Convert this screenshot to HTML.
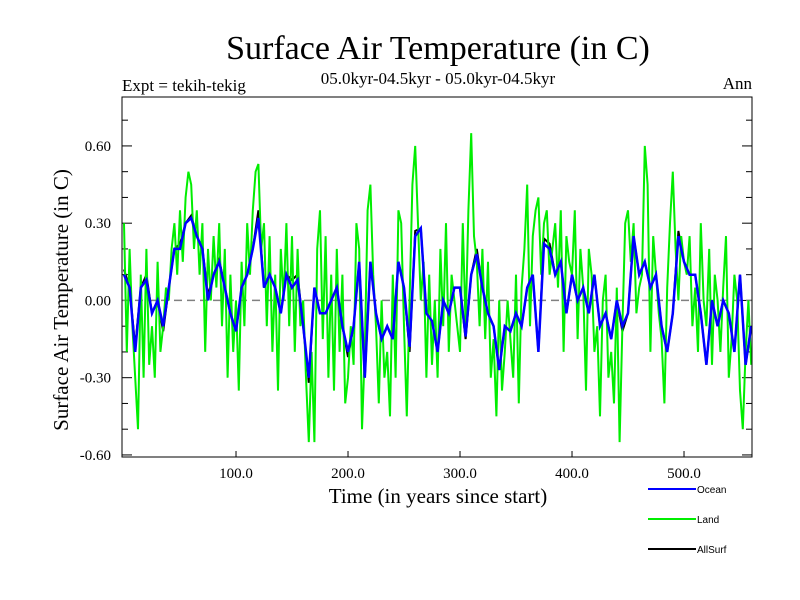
<!DOCTYPE html>
<html><head><meta charset="utf-8"><style>
body{margin:0;background:#fff;}
svg{display:block;font-family:"Liberation Serif",serif;}
</style></head><body>
<svg id="chart" width="800" height="600">
<text x="438" y="59" font-size="34" text-anchor="middle">Surface Air Temperature (in C)</text>
<text x="438" y="84" font-size="17" text-anchor="middle">05.0kyr-04.5kyr - 05.0kyr-04.5kyr</text>
<text x="122" y="91" font-size="17">Expt = tekih-tekig</text>
<text x="752" y="89" font-size="17" text-anchor="end">Ann</text>
<text transform="translate(68,300) rotate(-90)" font-size="21" text-anchor="middle">Surface Air Temperature (in C)</text>
<text x="438" y="503" font-size="21" text-anchor="middle">Time (in years since start)</text>
<g id="ticks"></g>
<g id="series"></g>
<rect x="122" y="97" width="630" height="360" fill="none" stroke="#000" stroke-width="1"/>
<g id="legend" font-family="Liberation Sans, sans-serif" font-size="10"></g>
</svg>
<script>
const yTicks=[0.6,0.3,0,-0.3,-0.6];
const yTickLabels=["0.60","0.30","0.00","-0.30","-0.60"];
const xTicks=[100,200,300,400,500];
const xTickLabels=["100.0","200.0","300.0","400.0","500.0"];
const ocean=[0.1,0.05,-0.2,0.05,0.08,-0.05,0.0,-0.1,0.05,0.2,0.2,0.3,0.32,0.25,0.2,0.0,0.1,0.15,0.05,-0.05,-0.12,0.05,0.1,0.2,0.32,0.05,0.1,0.05,-0.05,0.1,0.05,0.08,-0.1,-0.3,0.05,-0.05,-0.05,0.0,0.05,-0.1,-0.2,-0.1,0.15,-0.3,0.15,-0.05,-0.15,-0.1,-0.15,0.15,0.05,-0.18,0.25,0.28,-0.05,-0.08,-0.2,0.0,-0.05,0.05,0.05,-0.14,0.1,0.18,0.05,-0.05,-0.1,-0.27,-0.1,-0.12,-0.05,-0.1,0.05,0.1,-0.2,0.22,0.2,0.1,0.15,-0.05,0.1,0.0,0.05,-0.05,0.1,-0.1,-0.05,-0.15,0.0,-0.1,-0.05,0.25,0.1,0.15,0.05,0.1,-0.1,-0.2,-0.05,0.25,0.15,0.1,0.1,-0.05,-0.25,0.0,-0.1,0.0,-0.05,-0.2,0.1,-0.25,-0.1];
const allsurf=[0.12,0.05,-0.18,0.05,0.1,-0.05,0.0,-0.12,0.05,0.2,0.22,0.3,0.33,0.25,0.2,0.02,0.1,0.16,0.05,-0.05,-0.12,0.05,0.1,0.2,0.35,0.05,0.1,0.05,-0.05,0.1,0.08,0.1,-0.1,-0.32,0.05,-0.05,-0.05,0.0,0.05,-0.1,-0.22,-0.1,0.15,-0.3,0.15,-0.05,-0.15,-0.1,-0.15,0.15,0.05,-0.2,0.27,0.28,-0.05,-0.08,-0.2,0.0,-0.05,0.05,0.05,-0.15,0.1,0.2,0.05,-0.05,-0.1,-0.27,-0.1,-0.12,-0.05,-0.1,0.05,0.1,-0.2,0.24,0.22,0.1,0.15,-0.05,0.1,0.0,0.05,-0.05,0.1,-0.1,-0.05,-0.15,0.0,-0.12,-0.05,0.25,0.1,0.15,0.05,0.1,-0.1,-0.2,-0.05,0.27,0.15,0.1,0.1,-0.05,-0.25,0.0,-0.1,0.0,-0.05,-0.2,0.1,-0.25,-0.1];
const land=[0.3,-0.2,0.2,-0.1,-0.3,-0.5,0.1,-0.3,0.2,-0.25,
-0.1,-0.3,0.15,-0.2,-0.1,0.05,0.0,0.2,0.3,0.1,
0.35,0.15,0.4,0.5,0.45,0.2,0.35,0.1,0.3,-0.2,
0.2,0.0,0.25,0.05,0.3,-0.1,0.2,-0.3,0.1,-0.2,
0.0,-0.35,0.15,-0.1,0.3,0.1,0.35,0.5,0.53,0.2,
0.3,-0.1,0.25,-0.2,0.1,-0.35,0.2,0.0,0.3,-0.1,
0.25,-0.2,0.2,-0.1,0.0,-0.3,-0.55,-0.2,-0.55,0.2,
0.35,-0.15,0.25,-0.3,0.1,-0.35,0.2,-0.2,0.1,-0.4,
-0.3,-0.1,-0.25,0.3,0.2,-0.5,-0.2,0.35,0.45,0.1,
-0.1,-0.4,0.0,-0.3,-0.2,-0.45,0.1,-0.3,0.35,0.3,
-0.1,-0.45,0.0,0.45,0.6,0.3,0.0,0.15,-0.3,0.1,
-0.25,0.0,-0.3,0.2,-0.1,0.3,-0.2,0.1,0.0,-0.1,
-0.2,0.3,-0.1,0.35,0.65,0.25,0.15,-0.1,0.2,-0.15,
0.15,-0.3,-0.15,-0.45,0.0,-0.35,-0.2,0.0,-0.15,-0.3,
0.1,-0.4,0.05,0.2,0.45,-0.1,0.25,0.35,0.4,0.1,
0.3,0.35,0.1,0.2,0.3,0.05,0.35,-0.2,0.25,0.15,
0.1,0.35,-0.15,0.2,0.05,-0.35,0.2,0.1,-0.2,-0.1,
-0.45,0.0,0.1,-0.3,-0.2,-0.4,0.05,-0.55,-0.1,0.3,
0.35,0.15,0.3,-0.05,0.05,0.1,0.6,0.45,-0.2,0.25,
0.1,-0.05,-0.15,-0.4,0.05,0.3,0.5,0.2,0.0,0.25,
0.15,0.1,0.25,-0.1,0.05,-0.2,0.3,0.0,-0.1,0.2,
-0.25,0.1,0.0,-0.2,0.05,0.25,-0.3,-0.15,0.1,0.0,
-0.35,-0.5,-0.2,0.0,-0.25];

const X0=122,X1=752,Y0=97,Y1=457,TMIN=-1.8,TMAX=560.7,VMIN=-0.608,VMAX=0.79;
function xs(t){return X0+(t-TMIN)/(TMAX-TMIN)*(X1-X0);}
function ys(v){return Y1-(v-VMIN)/(VMAX-VMIN)*(Y1-Y0);}
const NS="http://www.w3.org/2000/svg";
function mk(tag,attrs,parent){const e=document.createElementNS(NS,tag);for(const k in attrs)e.setAttribute(k,attrs[k]);parent.appendChild(e);return e;}
const tg=document.getElementById('ticks');
for(let v=-0.6;v<=0.78;v+=0.1){
  const y=ys(v);const major=Math.abs(Math.round(v*10)%3)===0;const L=major?10:6;
  const a=mk('line',{x1:X0,x2:X0+L,y1:y,y2:y,stroke:'#000'},tg);
  
  
  const b=mk('line',{x1:X1-L,x2:X1,y1:y,y2:y,stroke:'#000'},tg);
  
  
}
yTicks.forEach((v,i)=>{
  const t=mk('text',{x:X0-11,y:ys(v)+5,'font-size':15,'text-anchor':'end'},tg);
  t.textContent=yTickLabels[i];
  
  
});
xTicks.forEach((v,i)=>{
  const l=mk('line',{x1:xs(v),x2:xs(v),y1:Y1,y2:Y1-6,stroke:'#000'},tg);
  
  
  const t=mk('text',{x:xs(v),y:Y1+21,'font-size':15,'text-anchor':'middle'},tg);
  t.textContent=xTickLabels[i];
  
  
});
const sg=document.getElementById('series');
const zl=mk('line',{x1:X0,x2:X1,y1:ys(0),y2:ys(0),stroke:'#808080','stroke-width':1.5,'stroke-dasharray':'8,5'},sg);


function pts(arr,step){return arr.map((v,i)=>xs(i*step).toFixed(1)+','+ys(v).toFixed(1)).join(' ');}
const pa=mk('polyline',{points:pts(allsurf,5),fill:'none',stroke:'#000','stroke-width':2},sg);


const pl=mk('polyline',{points:pts(land,2.5),fill:'none',stroke:'#00ee00','stroke-width':2},sg);


const po=mk('polyline',{points:pts(ocean,5),fill:'none',stroke:'#0000ff','stroke-width':2.5},sg);


const lg=document.getElementById('legend');
const legNames=["Ocean","Land","AllSurf"];
const legColors=["#0000ff","#00ee00","#000"];
legNames.forEach((n,i)=>{
  const y=489+i*30;
  const l=mk('line',{x1:648,x2:696,y1:y,y2:y,stroke:legColors[i],'stroke-width':2},lg);
  
  
  const t=mk('text',{x:697,y:y+4},lg);
  t.textContent=n;
  
  
});
</script>
</body></html>
